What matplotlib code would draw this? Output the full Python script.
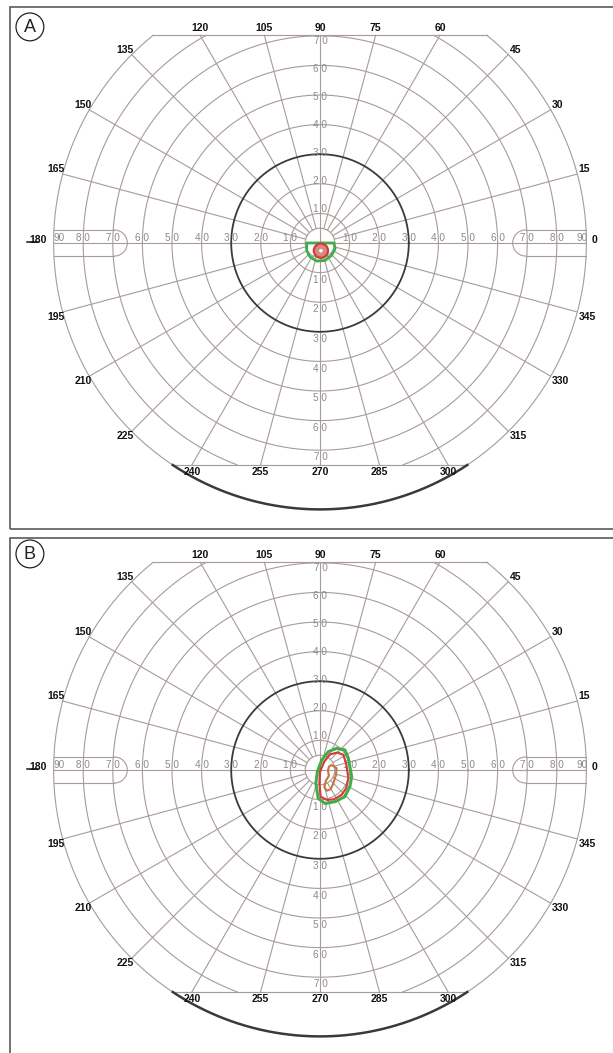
import numpy as np
import matplotlib
matplotlib.use("Agg")
import matplotlib.pyplot as plt
from matplotlib.patches import Circle, Rectangle

plt.rcParams['font.family'] = ['Liberation Sans', 'DejaVu Sans']

# ---------------- data ----------------
ring_ecc = [10, 20, 30, 40, 50, 60, 70, 80, 90]
inner_ring = 5
heavy_ring = 30
meridians = list(range(0, 360, 15))
horiz_scale_vals = [10, 20, 30, 40, 50, 60, 70, 80]
horiz_scale_text = ['1 0', '2 0', '3 0', '4 0', '5 0', '6 0', '7 0', '8 0']
vert_scale_vals = [10, 20, 30, 40, 50, 60, 70]
vert_scale_text = ['1 0', '2 0', '3 0', '4 0', '5 0', '6 0', '7 0']
outer_label = '90'

# Panel A isopters (degrees, x = temporal/nasal, y = superior/inferior)
a_green_x = [-4.5, 4.7, 5.1, 3.9, 1.7, -1.1, -3.4, -4.5]
a_green_y = [0.0, 0.0, -1.9, -4.2, -5.9, -6.1, -4.7, -2.5]
a_red_center = (0.3, -2.6)
a_red_radius = 2.4

# Panel B isopters
b_green_x = [5.6, 8.4, 9.6, 10.7, 10.1, 8.4, 5.1, 1.7, -0.6, -1.4, -0.9, 0.6, 2.8]
b_green_y = [7.3, 6.8, 3.9, -2.3, -5.6, -9.0, -10.7, -11.3, -9.6, -4.5, -0.6, 3.4, 6.2]
b_red_x = [5.9, 7.9, 8.8, 9.6, 8.8, 7.3, 4.7, 2.3, 0.2, -0.2, 0.0, 1.4, 3.4]
b_red_y = [5.9, 5.1, 2.3, -2.8, -6.2, -8.4, -9.9, -10.1, -9.0, -4.5, -0.6, 2.8, 5.3]
b_brown_x = [3.9, 5.6, 5.4, 4.5, 3.6, 2.3, 1.5, 2.0, 3.0, 2.7, 3.0]
b_brown_y = [1.7, 0.6, -1.7, -4.5, -6.5, -7.0, -5.9, -3.6, -2.0, -0.2, 1.1]

# ---------------- layout ----------------
W, H = 613, 1053
S = 2.96            # pixels per degree
CX = 320            # chart centre x (px)
TOP_LIM = 70.2
BOT_LIM = -75.0
OUTER = 90.0

GRID = '#a89b99'
DARK = '#3a3a3a'
LBL_GREY = '#8a8a8a'

fig = plt.figure(figsize=(W / 100, H / 100), dpi=100)


def add_panel(py0, py1, cy):
    ax = fig.add_axes([0, 1 - py1 / H, 1, (py1 - py0) / H])
    ax.set_xlim(-CX / S, (W - CX) / S)
    ax.set_ylim(-(py1 - cy) / S, (cy - py0) / S)
    ax.axis('off')
    return ax


def draw_chart(ax, letter):
    th = np.linspace(0, 2 * np.pi, 1441)
    # rings
    for r in [inner_ring] + ring_ecc:
        x = r * np.cos(th)
        y = r * np.sin(th)
        m = (y > TOP_LIM) | (y < BOT_LIM)
        x = np.where(m, np.nan, x)
        y = np.where(m, np.nan, y)
        if r == heavy_ring:
            ax.plot(x, y, color=DARK, lw=1.3, zorder=2)
        else:
            ax.plot(x, y, color=GRID, lw=0.8, zorder=1)
    # thick lower arc of the outer circle
    a0 = np.pi + np.arcsin(-BOT_LIM / OUTER)
    a1 = 2 * np.pi - np.arcsin(-BOT_LIM / OUTER)
    ta = np.linspace(a0, a1, 300)
    ax.plot(OUTER * np.cos(ta), OUTER * np.sin(ta), color=DARK, lw=1.8, zorder=2)
    # chords
    xt = np.sqrt(OUTER ** 2 - TOP_LIM ** 2)
    xb = np.sqrt(OUTER ** 2 - BOT_LIM ** 2)
    ax.plot([-xt, xt], [TOP_LIM, TOP_LIM], color=GRID, lw=0.85, zorder=1)
    ax.plot([-xb, xb], [BOT_LIM, BOT_LIM], color=GRID, lw=0.85, zorder=1)
    # meridians + labels
    for m in meridians:
        t = np.deg2rad(m)
        c, s = np.cos(t), np.sin(t)
        rend = OUTER
        on_chord = False
        if s > 1e-6 and TOP_LIM / s < OUTER:
            rend = TOP_LIM / s
            on_chord = True
        if s < -1e-6 and BOT_LIM / s < OUTER:
            rend = BOT_LIM / s
            on_chord = True
        r0 = 0 if m % 90 == 0 else inner_ring
        ax.plot([r0 * c, rend * c], [r0 * s, rend * s], color=GRID, lw=0.8, zorder=1)
        xe, ye = rend * c, rend * s
        kw = dict(fontsize=7.5, fontweight='bold', color='#111111', zorder=5)
        if on_chord:
            if s > 0:
                ax.text(xe, ye + 0.7, str(m), ha='center', va='bottom', **kw)
            else:
                ax.text(xe, ye - 0.6, str(m), ha='center', va='top', **kw)
        else:
            if m == 0:
                ax.text(xe + 1.8, 1.0, '0', ha='left', va='center', **kw)
            elif m == 180:
                ax.text(xe - 2.4, 1.0, '180', ha='right', va='center', **kw)
                ax.plot([-99.0, -95.3], [0.2, 0.2], color='#111111', lw=1.1, zorder=5)
            else:
                ha = 'left' if c > 0 else 'right'
                va = 'bottom' if s > 0 else 'top'
                dx = 0.4 if c > 0 else 0.8
                ax.text(xe + dx, ye, str(m), ha=ha, va=va, **kw)
    # blind-spot windows on the horizontal meridian
    half = 4.4
    xin = 69.5
    for sgn in (1, -1):
        xo = np.sqrt(OUTER ** 2 - half ** 2)
        ax.plot([sgn * xin, sgn * xo], [half, half], color=GRID, lw=0.8, zorder=1)
        ax.plot([sgn * xin, sgn * xo], [-half, -half], color=GRID, lw=0.8, zorder=1)
        tt = np.linspace(np.pi / 2, 3 * np.pi / 2, 100)
        ax.plot(sgn * (xin + half * np.cos(tt)), half * np.sin(tt), color=GRID, lw=0.8, zorder=1)
    # scale labels
    lk = dict(fontsize=7.2, color=LBL_GREY, zorder=4)
    for v, tx in zip(horiz_scale_vals, horiz_scale_text):
        ax.text(v, 1.7, tx, ha='center', va='center', **lk)
        ax.text(-v, 1.7, tx, ha='center', va='center', **lk)
    ax.text(88.4, 1.7, outer_label, ha='center', va='center', **lk)
    ax.text(-88.3, 1.7, outer_label, ha='center', va='center', **lk)
    for v, tx in zip(vert_scale_vals, vert_scale_text):
        ax.text(0.15, v + 1.5 - 0.055 * (v - 10), tx, ha='center', va='center', **lk)
        ax.text(0.15, -v - 2.4, tx, ha='center', va='center', **lk)
    # circled letter
    ax.add_patch(Circle((-98.0, 73.0), 4.7, fill=False, ec='#222222', lw=0.9, zorder=5))
    ax.text(-98.0, 72.8, letter, ha='center', va='center', fontsize=13,
            color='#222222', zorder=6)


# panel frames
for (y0, y1) in [(7, 529), (538, 1070)]:
    fig.add_artist(Rectangle((10 / W, 1 - y1 / H), 700 / W, (y1 - y0) / H,
                             transform=fig.transFigure, fill=False,
                             ec='#5a5a5a', lw=1.2))

axA = add_panel(0, 529, 243)
draw_chart(axA, 'A')
axA.fill(a_green_x, a_green_y, fill=False, ec='#3fae49', lw=2.0, joinstyle='round', zorder=6)
axA.add_patch(Circle(a_red_center, a_red_radius, fc='#d98a86', ec='#c8403a', lw=1.6, zorder=7))
axA.add_patch(Circle(a_red_center, 0.6, fc='white', ec='none', zorder=8))

axB = add_panel(529, 1053, 770)
draw_chart(axB, 'B')
axB.fill(b_green_x, b_green_y, fill=False, ec='#3fae49', lw=2.2, joinstyle='round', zorder=6)
axB.fill(b_red_x, b_red_y, fill=False, ec='#d63c3c', lw=1.6, joinstyle='round', zorder=7)
axB.fill(b_brown_x, b_brown_y, fill=False, ec='#c0763e', lw=1.5, joinstyle='round', zorder=8)

fig.savefig('out.png', dpi=100)
